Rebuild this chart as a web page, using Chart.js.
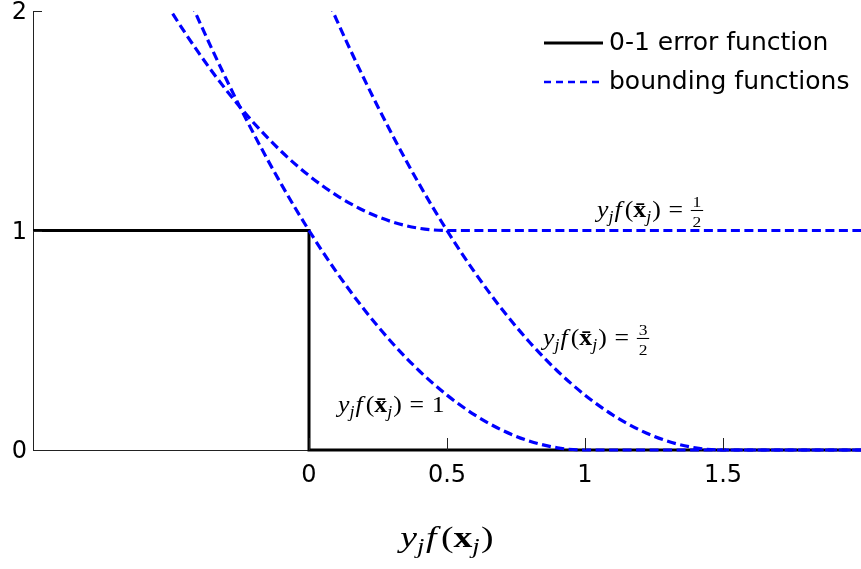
<!DOCTYPE html>
<html>
<head>
<meta charset="utf-8">
<script src="https://cdn.jsdelivr.net/npm/chart.js@4.4.1/dist/chart.umd.min.js"></script>
<style>
  html, body { margin: 0; padding: 0; background: #fff; }
</style>
</head>
<body>
<canvas id="myChart" width="861" height="569"></canvas>
<script>
// sample positions along y_j f(x_j)
const zValues = [-1, -0.9, -0.8, -0.7, -0.6, -0.5, -0.4, -0.3, -0.2, -0.1, 0,
  0.1, 0.2, 0.3, 0.4, 0.5, 0.6, 0.7, 0.8, 0.9, 1,
  1.1, 1.2, 1.3, 1.4, 1.5, 1.6, 1.7, 1.8, 1.9, 2];

// 0-1 error function (step at zero)
const stepZ = [-1, 0, 0, 2];
const stepLoss = [1, 1, 0, 0];

// bounding functions, one per value of y_j f(xbar_j)
const boundHalf = [3.25, 2.96, 2.69, 2.44, 2.21, 2.0, 1.81, 1.64, 1.49, 1.36, 1.25,
  1.16, 1.09, 1.04, 1.01, 1.0, 1, 1, 1, 1, 1,
  1, 1, 1, 1, 1, 1, 1, 1, 1, 1];
const boundOne = [4, 3.61, 3.24, 2.89, 2.56, 2.25, 1.96, 1.69, 1.44, 1.21, 1.0,
  0.81, 0.64, 0.49, 0.36, 0.25, 0.16, 0.09, 0.04, 0.01, 0,
  0, 0, 0, 0, 0, 0, 0, 0, 0, 0];
const boundThreeHalves = [6.25, 5.76, 5.29, 4.84, 4.41, 4.0, 3.61, 3.24, 2.89, 2.56, 2.25,
  1.96, 1.69, 1.44, 1.21, 1.0, 0.81, 0.64, 0.49, 0.36, 0.25,
  0.16, 0.09, 0.04, 0.01, 0, 0, 0, 0, 0, 0];

const xTickValues = [0, 0.5, 1, 1.5];
const yTickValues = [0, 1, 2];

const legendItems = ['0-1 error function', 'bounding functions'];

const BLUE = '#0000ff';
const SANS = '"DejaVu Sans", sans-serif';
const SERIF = '"Liberation Serif", serif';

function toPoints(xs, ys) {
  return xs.map((v, i) => ({ x: v, y: ys[i] }));
}

function boundDataset(values) {
  return {
    data: toPoints(zValues, values),
    borderColor: BLUE,
    borderWidth: 3.2,
    borderDash: [9, 4.5],
    pointRadius: 0,
    cubicInterpolationMode: 'monotone',
    clip: { left: 0, top: 0, right: 2, bottom: 2 },
    order: 1
  };
}

// pieces of  y_j f(xbar_j)
const lhsBar = [
  { t: 'y', s: 'italic' }, { t: 'j', s: 'italic', sub: true, k: 0.04 },
  { t: 'f', s: 'italic', k: 0.12 }, { t: '(' }, { t: 'x\u0304', s: 'bold' },
  { t: 'j', s: 'italic', sub: true, k: 0.04 }, { t: ')' }, { t: '=', pad: 0.3 }
];
const mathLabels = [
  { at: [1.0435, 1.061], parts: lhsBar.concat([{ frac: ['1', '2'] }]) },
  { at: [0.848, 0.478], parts: lhsBar.concat([{ frac: ['3', '2'] }]) },
  { at: [0.105, 0.173], parts: lhsBar.concat([{ t: '1' }]) }
];
const titleParts = [
  { t: 'y', s: 'italic' }, { t: 'j', s: 'italic', sub: true, k: 0.04 },
  { t: 'f', s: 'italic', k: 0.12 }, { t: '(' }, { t: 'x', s: 'bold' },
  { t: 'j', s: 'italic', sub: true, k: 0.04 }, { t: ')' }
];

// lays out (and optionally draws) a small math expression, returns its width
function mathRun(ctx, parts, size, draw) {
  let x = 0;
  for (const p of parts) {
    if (p.frac) {
      const small = size * 0.68;
      ctx.font = small + 'px ' + SERIF;
      const w = Math.max(ctx.measureText(p.frac[0]).width, ctx.measureText(p.frac[1]).width) + size * 0.14;
      if (draw) {
        ctx.textAlign = 'center';
        ctx.fillText(p.frac[0], x + w / 2, -size * 0.44);
        ctx.fillText(p.frac[1], x + w / 2, size * 0.45);
        ctx.fillRect(x, -size * 0.31, w, Math.max(1, size * 0.045));
        ctx.textAlign = 'left';
      }
      x += w;
      continue;
    }
    const fs = p.sub ? size * 0.7 : size;
    ctx.font = (p.s || '') + ' ' + fs + 'px ' + SERIF;
    const pad = (p.pad || 0) * size;
    x += pad;
    if (draw) ctx.fillText(p.t, x, p.sub ? size * 0.2 : 0);
    x += ctx.measureText(p.t).width + pad + (p.k || 0) * size;
  }
  return x;
}

function drawMath(ctx, x0, base, size, sx, parts, align) {
  ctx.save();
  ctx.fillStyle = '#000';
  ctx.textBaseline = 'alphabetic';
  ctx.textAlign = 'left';
  const w = mathRun(ctx, parts, size, false) * sx;
  const left = align === 'center' ? x0 - w / 2 : x0;
  ctx.translate(left, base);
  ctx.scale(sx, 1);
  mathRun(ctx, parts, size, true);
  ctx.restore();
}

const decorations = {
  id: 'decorations',
  afterDraw(chart) {
    const { ctx, chartArea, scales } = chart;
    const xs = scales.x, ys = scales.y;
    ctx.save();

    // inward tick marks
    ctx.strokeStyle = '#222';
    ctx.lineWidth = 1;
    ctx.beginPath();
    xTickValues.forEach(v => {
      const px = Math.round(xs.getPixelForValue(v)) + 0.5;
      ctx.moveTo(px, chartArea.bottom);
      ctx.lineTo(px, chartArea.bottom - 12);
    });
    yTickValues.forEach(v => {
      const py = Math.round(ys.getPixelForValue(v)) + 0.5;
      ctx.moveTo(chartArea.left, py);
      ctx.lineTo(chartArea.left + 9, py);
    });
    ctx.stroke();

    // legend
    const lx = 544, lw = 59;
    const rows = [43, 82];
    ctx.lineWidth = 3;
    ctx.strokeStyle = '#000';
    ctx.beginPath();
    ctx.moveTo(lx, rows[0]); ctx.lineTo(lx + lw, rows[0]);
    ctx.stroke();
    ctx.strokeStyle = BLUE;
    ctx.lineWidth = 2.5;
    ctx.setLineDash([7, 5]);
    ctx.beginPath();
    ctx.moveTo(lx, rows[1]); ctx.lineTo(lx + lw, rows[1]);
    ctx.stroke();
    ctx.setLineDash([]);
    ctx.fillStyle = '#000';
    ctx.font = '25px ' + SANS;
    ctx.textBaseline = 'middle';
    ctx.textAlign = 'left';
    legendItems.forEach((txt, i) => ctx.fillText(txt, lx + lw + 6, rows[i]));
    ctx.restore();

    // curve labels
    mathLabels.forEach(lab => {
      drawMath(ctx, xs.getPixelForValue(lab.at[0]), ys.getPixelForValue(lab.at[1]), 23, 1.12, lab.parts, 'left');
    });

    // x axis title
    drawMath(ctx, (chartArea.left + chartArea.right) / 2, 547, 29, 1.3, titleParts, 'center');
  }
};

const ctx = document.getElementById('myChart');
new Chart(ctx, {
  type: 'line',
  data: {
    datasets: [
      boundDataset(boundHalf),
      boundDataset(boundOne),
      boundDataset(boundThreeHalves),
      {
        data: toPoints(stepZ, stepLoss),
        borderColor: '#000',
        borderWidth: 3,
        pointRadius: 0,
        tension: 0,
        clip: 3,
        order: 5
      }
    ]
  },
  options: {
    responsive: false,
    animation: false,
    events: [],
    layout: { padding: { top: 11, right: 0, left: 0, bottom: 0 } },
    plugins: {
      legend: { display: false },
      tooltip: { enabled: false }
    },
    scales: {
      x: {
        type: 'linear',
        min: -1,
        max: 2,
        afterBuildTicks: scale => { scale.ticks = xTickValues.map(v => ({ value: v })); },
        afterFit: scale => { scale.height = 119; scale.paddingLeft = 0; scale.paddingRight = 0; },
        grid: { display: false, drawTicks: false },
        border: { display: true, color: '#222', width: 1 },
        ticks: {
          padding: 11,
          color: '#000',
          font: { family: SANS, size: 24 },
          maxRotation: 0,
          callback: v => String(v)
        }
      },
      y: {
        min: 0,
        max: 2,
        afterBuildTicks: scale => { scale.ticks = yTickValues.map(v => ({ value: v })); },
        afterFit: scale => { scale.width = 33; scale.paddingTop = 0; scale.paddingBottom = 0; },
        grid: { display: false, drawTicks: false },
        border: { display: true, color: '#222', width: 1 },
        ticks: {
          padding: 6,
          labelOffset: 2,
          color: '#000',
          font: { family: SANS, size: 24 },
          callback: v => String(v)
        }
      }
    }
  },
  plugins: [decorations]
});
</script>
</body>
</html>
